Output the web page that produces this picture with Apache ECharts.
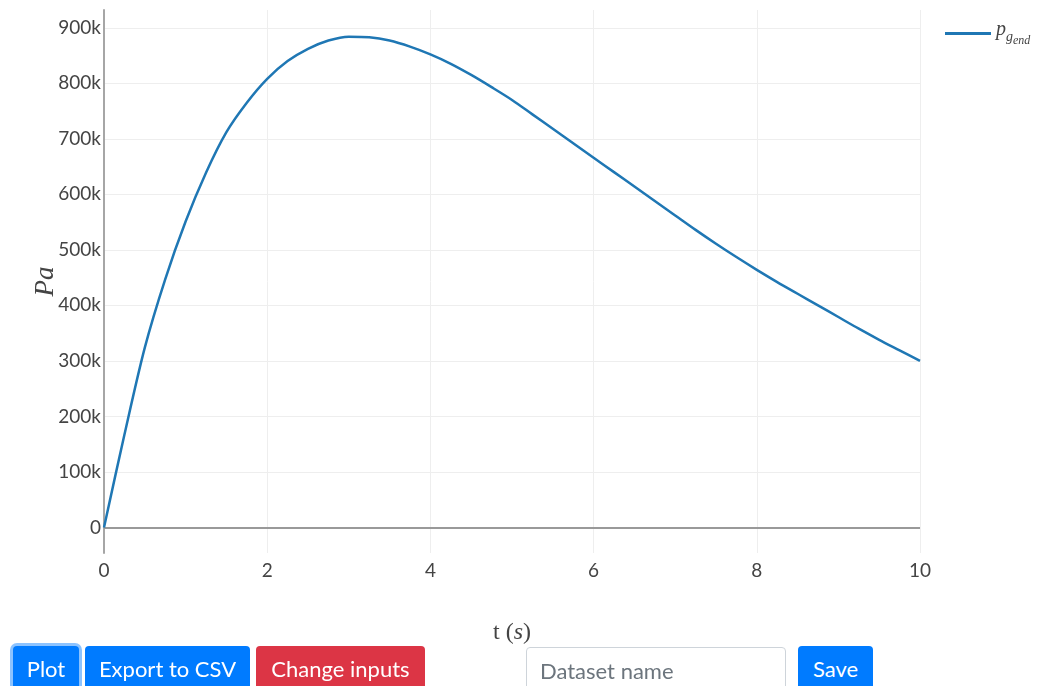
<!DOCTYPE html>
<html>
<head>
<meta charset="utf-8">
<title>Gas pressure</title>
<script src="https://cdn.jsdelivr.net/npm/echarts@6/dist/echarts.min.js"></script>
<style>
  html, body { margin: 0; padding: 0; background: #fff; overflow: hidden; }
  #chart { position: absolute; left: 0; top: 0; width: 1042px; height: 686px; }
  .controls { position: absolute; left: 0; top: 0; width: 1042px; height: 686px; pointer-events: none; }
  .btn {
    position: absolute; top: 646px; height: 46px; box-sizing: border-box;
    border: none; border-radius: 4px; color: #fff;
    font-family: Lato, "Open Sans", sans-serif; font-size: 22px;
    line-height: 46px; padding: 0; text-align: center; pointer-events: auto;
  }
  .blue { background: #007bff; }
  .red { background: #dc3545; }
  .focus { box-shadow: 0 0 0 3px rgba(0, 123, 255, 0.45); }
  .field {
    position: absolute; left: 526px; top: 647px; width: 260px; height: 46px;
    box-sizing: border-box; border: 1px solid #ced4da; border-radius: 4px;
    font-family: Lato, "Open Sans", sans-serif; font-size: 22px;
    padding: 0 13px; color: #495057; background: #fff; pointer-events: auto;
  }
  .field::placeholder { color: #6c757d; }
</style>
</head>
<body>
<div id="chart"></div>
<div class="controls">
  <button class="btn blue focus" style="left:13px;width:66px;">Plot</button>
  <button class="btn blue" style="left:85px;width:165px;">Export to CSV</button>
  <button class="btn red" style="left:256px;width:169px;">Change inputs</button>
  <input class="field" type="text" placeholder="Dataset name">
  <button class="btn blue" style="left:798px;width:75px;">Save</button>
</div>
<script>
// time samples (s)
const timeS = [
  0, 0.25, 0.5, 0.75, 1, 1.25, 1.5, 1.75, 2, 2.25, 2.5, 2.75, 3, 3.25, 3.5,
  3.75, 4, 4.25, 4.5, 4.75, 5, 5.25, 5.5, 5.75, 6, 6.25, 6.5, 6.75, 7, 7.25,
  7.5, 7.75, 8, 8.25, 8.5, 8.75, 9, 9.25, 9.5, 9.75, 10
];
// gas pressure at the end of the barrel (Pa)
const pressurePa = [
  0, 167000, 324000, 447000, 551000, 639000, 712000, 765000, 808000, 840000,
  862000, 877000, 884000, 883000, 877000, 866000, 852000, 835000, 815000,
  793000, 770000, 744000, 718000, 692000, 666000, 640000, 614000, 588000,
  562000, 536000, 511000, 487000, 464000, 442000, 421000, 400000, 379000,
  358000, 338000, 319000, 300000
];
const xTicks = [0, 2, 4, 6, 8, 10];
const seriesName = 'pgend';

const points = timeS.map((t, i) => [t, pressurePa[i]]);
const tickFont = { fontFamily: 'Lato, "Open Sans", sans-serif', fontSize: 19, color: '#444' };
const serif = '"Liberation Serif", serif';

const chart = echarts.init(document.getElementById('chart'), null, { renderer: 'canvas' });
chart.setOption({
  animation: false,
  backgroundColor: '#fff',
  grid: { left: 104, right: 122, top: 10, bottom: 133, containLabel: false },
  legend: {
    left: 945, top: 20, padding: 0,
    itemWidth: 46, itemHeight: 3, itemGap: 6,
    icon: 'rect',
    data: [seriesName],
    formatter: () => '{p|p}{g|g}{e|end}',
    textStyle: {
      rich: {
        p: { fontFamily: serif, fontStyle: 'italic', fontSize: 20, color: '#444', verticalAlign: 'bottom', padding: [0, 0, 7, 0] },
        g: { fontFamily: serif, fontStyle: 'italic', fontSize: 14, color: '#444', verticalAlign: 'bottom', padding: [0, 0, 3, 0] },
        e: { fontFamily: serif, fontStyle: 'italic', fontSize: 12, color: '#444', verticalAlign: 'bottom', padding: [0, 0, 0, 0] }
      }
    }
  },
  xAxis: {
    type: 'value',
    min: xTicks[0], max: xTicks[xTicks.length - 1], interval: 2,
    axisLine: { show: false },
    axisTick: { show: false },
    axisLabel: Object.assign({ margin: 8 }, tickFont),
    splitLine: { show: true, lineStyle: { color: '#eeeeee', width: 1 } },
    name: '{r|t }{r|(}{i|s}{r|)}',
    nameLocation: 'middle',
    nameGap: 68,
    nameMoveOverlap: false,
    nameTextStyle: {
      rich: {
        r: { fontFamily: serif, fontSize: 24, color: '#444' },
        i: { fontFamily: serif, fontStyle: 'italic', fontSize: 24, color: '#444' }
      }
    }
  },
  yAxis: {
    type: 'value',
    min: -46000, max: 932000, splitNumber: 10,
    axisLine: { show: true, onZero: false, lineStyle: { color: '#a6a6a6', width: 2 } },
    axisTick: { show: false },
    axisLabel: Object.assign({
      margin: 3, showMinLabel: false, showMaxLabel: false,
      formatter: v => (v === 0 ? '0' : (v / 1000) + 'k')
    }, tickFont),
    splitLine: { show: true, showMinLine: false, showMaxLine: false, lineStyle: { color: '#eeeeee', width: 1 } },
    name: 'Pa',
    nameLocation: 'middle',
    nameRotate: 90,
    nameGap: 45,
    nameMoveOverlap: false,
    nameTextStyle: { fontFamily: serif, fontStyle: 'italic', fontSize: 27, color: '#444' }
  },
  series: [{
    name: seriesName,
    type: 'line',
    data: points,
    showSymbol: false,
    smooth: 0.3,
    lineStyle: { color: '#1f77b4', width: 2.5 },
    itemStyle: { color: '#1f77b4' },
    markLine: {
      silent: true,
      symbol: 'none',
      label: { show: false },
      lineStyle: { color: '#999', width: 2, type: 'solid' },
      data: [{ yAxis: 0 }],
      z: 1
    },
    z: 3
  }]
});
</script>
</body>
</html>
